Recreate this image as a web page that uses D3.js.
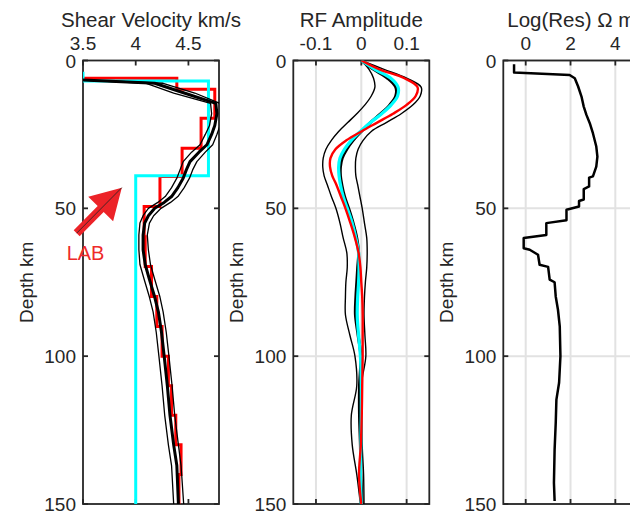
<!DOCTYPE html>
<html><head><meta charset="utf-8">
<script src="https://cdn.jsdelivr.net/npm/d3@7"></script>
<style>
body{margin:0;background:#fff}
svg{display:block}
text{font-family:"Liberation Sans",Arial,Helvetica,sans-serif;fill:#262626}
</style>
</head><body>
<svg id="c" width="630" height="515"></svg>
<script>
// ---------------- DATA ----------------
const depthTicks = [0, 50, 100, 150];
const velTicks = [3.5, 4, 4.5];
const rfTicks = [-0.1, 0, 0.1];
const resTicks = [0, 2, 4];

// starting model (cyan), layer tops + velocities
const startTops = [3.8, 6.9, 39];
const startVs = [3.5, 4.69, 4.0];
// true/reference model (red), layer tops + velocities
const trueTops = [0, 6, 9.7, 19.5, 29.7, 39.2, 49.4, 59.6, 69.7, 79.8, 90, 100, 110, 120, 130, 140];
const trueVs = [3.3, 4.39, 4.75, 4.62, 4.44, 4.23, 4.08, 4.09, 4.15, 4.2, 4.25, 4.31, 4.34, 4.38, 4.43, 4.41];
const modelBottom = 150;

// inverted velocity (black): mean and bounds
const velDepth = [6.6, 7.7, 11, 14.5, 18, 22, 25, 28.5, 31, 34.2, 37, 39.8, 43, 46, 48, 50, 52.5, 55, 59, 64, 69, 74, 80, 85, 92, 100, 110, 120, 130, 137, 150];
const velMean = [3.5, 4.18, 4.46, 4.76, 4.77, 4.75, 4.72, 4.675, 4.6, 4.515, 4.48, 4.45, 4.4, 4.34, 4.27, 4.18, 4.12, 4.085, 4.07, 4.07, 4.09, 4.13, 4.18, 4.215, 4.245, 4.27, 4.3, 4.325, 4.36, 4.39, 4.405];
const velLow = [3.5, 4.1, 4.36, 4.71, 4.72, 4.7, 4.66, 4.61, 4.53, 4.45, 4.42, 4.39, 4.34, 4.28, 4.21, 4.12, 4.07, 4.04, 4.03, 4.03, 4.04, 4.08, 4.13, 4.165, 4.195, 4.22, 4.25, 4.275, 4.31, 4.34, 4.36];
const velHigh = [3.5, 4.26, 4.56, 4.8, 4.82, 4.8, 4.77, 4.73, 4.66, 4.58, 4.54, 4.51, 4.46, 4.4, 4.33, 4.24, 4.17, 4.13, 4.11, 4.12, 4.14, 4.18, 4.23, 4.26, 4.29, 4.315, 4.345, 4.37, 4.405, 4.43, 4.455];

// receiver functions
const rfDepth = [0, 3, 6, 9, 12, 15, 18, 21, 24, 27, 30, 33, 36, 39, 42, 46, 50, 55, 60, 65, 70, 75, 80, 86, 93, 100, 110, 120, 130, 140, 150];
const rfRed = [0, 0.04, 0.095, 0.124, 0.12, 0.1, 0.07, 0.035, 0.0, -0.033, -0.057, -0.068, -0.069, -0.064, -0.055, -0.045, -0.035, -0.024, -0.014, -0.006, -0.002, 0.0, 0.002, 0.003, 0.003, 0.003, 0.002, 0.001, -0.001, -0.005, 0.0];
const rfCyan = [0, 0.03, 0.065, 0.081, 0.08, 0.066, 0.045, 0.02, -0.002, -0.022, -0.037, -0.047, -0.05, -0.049, -0.046, -0.04, -0.031, -0.02, -0.012, -0.006, -0.005, -0.006, -0.008, -0.009, -0.006, -0.002, 0.0, 0.0, -0.001, -0.002, 0.0];
const rfMean = [0, 0.027, 0.058, 0.076, 0.076, 0.063, 0.043, 0.02, 0.0, -0.018, -0.032, -0.042, -0.046, -0.046, -0.043, -0.037, -0.028, -0.018, -0.01, -0.006, -0.008, -0.01, -0.012, -0.013, -0.007, -0.001, -0.004, -0.004, -0.002, -0.001, 0.002];
const rfLow = [0, 0.017, 0.027, 0.03, 0.022, 0.008, -0.01, -0.03, -0.05, -0.066, -0.078, -0.084, -0.085, -0.082, -0.075, -0.066, -0.056, -0.047, -0.04, -0.032, -0.031, -0.034, -0.035, -0.035, -0.025, -0.014, -0.01, -0.022, -0.02, -0.01, -0.002];
const rfHigh = [0, 0.05, 0.1, 0.132, 0.13, 0.114, 0.088, 0.055, 0.022, 0.004, -0.007, -0.012, -0.013, -0.012, -0.008, -0.003, 0.002, 0.007, 0.012, 0.013, 0.012, 0.009, 0.007, 0.006, 0.008, 0.01, 0.0, 0.002, 0.002, 0.005, 0.006];

// resistivity
const resDepth = [1.3, 4.1, 4.9, 6, 8.8, 12.2, 15.6, 18.4, 21.2, 24.6, 29.1, 32.5, 35.9, 39.2, 39.6, 42.6, 43.5, 47, 47.5, 49.4, 50.5, 54, 55, 59, 60, 63.5, 64, 65.7, 69.1, 69.8, 74.1, 75, 79.8, 84.3, 89.9, 100, 109, 114.7, 122.6, 131.6, 142.8, 149];
const resLog = [-0.52, -0.52, 1.96, 2.19, 2.34, 2.49, 2.59, 2.71, 2.86, 3.0, 3.15, 3.2, 3.15, 3.0, 2.83, 2.83, 2.59, 2.59, 2.38, 2.38, 1.82, 1.82, 0.92, 0.92, -0.09, -0.09, 0.18, 0.55, 0.62, 1.0, 1.07, 1.29, 1.34, 1.44, 1.52, 1.55, 1.49, 1.37, 1.34, 1.29, 1.26, 1.29];

// LAB annotation (panel 1 data coordinates: [velocity, depth])
const labArrowFrom = [3.44, 58.4];
const labArrowTo = [3.868, 43];
const labTextAt = [3.345, 64.8];
const labText = "LAB";

// ---------------- DRAW ----------------
const svg = d3.select("#c");
const AX = "#262626";
const y = d3.scaleLinear().domain([0, 150]).range([60.5, 504]);

function stepPoints(tops, vals, bottom) {
  const pts = [];
  tops.forEach((t, i) => {
    const b = i < tops.length - 1 ? tops[i + 1] : bottom;
    pts.push([vals[i], t], [vals[i], b]);
  });
  return pts;
}

function makePanel(id, x0, x1, domain, ticks, title, ylabelX, grid) {
  const x = d3.scaleLinear().domain(domain).range([x0, x1]);
  const g = svg.append("g");
  g.append("clipPath").attr("id", "clip" + id).append("rect")
    .attr("x", x0).attr("y", y(0)).attr("width", x1 - x0).attr("height", y(150) - y(0));
  if (grid) {
    ticks.forEach(t => g.append("line").attr("x1", x(t)).attr("x2", x(t))
      .attr("y1", y(0)).attr("y2", y(150)).attr("stroke", "#e2e2e2").attr("stroke-width", 2));
    depthTicks.forEach(t => g.append("line").attr("x1", x0).attr("x2", x1)
      .attr("y1", y(t)).attr("y2", y(t)).attr("stroke", "#e2e2e2").attr("stroke-width", 2));
  }
  // box
  g.append("rect").attr("x", x0).attr("y", y(0)).attr("width", x1 - x0).attr("height", y(150) - y(0))
    .attr("fill", "none").attr("stroke", AX).attr("stroke-width", 1.8);
  // x ticks top/bottom
  ticks.forEach(t => {
    g.append("line").attr("x1", x(t)).attr("x2", x(t)).attr("y1", y(0)).attr("y2", y(0) + 5).attr("stroke", AX).attr("stroke-width", 1.8);
    g.append("line").attr("x1", x(t)).attr("x2", x(t)).attr("y1", y(150)).attr("y2", y(150) - 5).attr("stroke", AX).attr("stroke-width", 1.8);
    g.append("text").attr("x", x(t)).attr("y", 49.8).attr("text-anchor", "middle")
      .attr("font-size", 19).text(String(t));
  });
  depthTicks.forEach(t => {
    g.append("line").attr("x1", x0).attr("x2", x0 + 5).attr("y1", y(t)).attr("y2", y(t)).attr("stroke", AX).attr("stroke-width", 1.8);
    g.append("line").attr("x1", x1).attr("x2", x1 - 5).attr("y1", y(t)).attr("y2", y(t)).attr("stroke", AX).attr("stroke-width", 1.8);
    g.append("text").attr("x", x0 - 7).attr("y", y(t) + 7).attr("text-anchor", "end")
      .attr("font-size", 19).text(t);
  });
  g.append("text").attr("x", (x0 + x1) / 2).attr("y", 26.5).attr("text-anchor", "middle")
    .attr("font-size", 20.5).text(title);
  g.append("text").attr("transform", `translate(${ylabelX},${(y(0) + y(150)) / 2}) rotate(-90)`)
    .attr("text-anchor", "middle").attr("font-size", 19).text("Depth km");
  const data = g.append("g").attr("clip-path", `url(#clip${id})`);
  return { x, data };
}

// Panel 1
const p1 = makePanel(1, 83, 219, [3.5, 4.79], velTicks, "Shear Velocity km/s", 33, false);
const line1 = d3.line().x(d => p1.x(d[0])).y(d => y(d[1]));
p1.data.append("path").attr("d", line1(stepPoints(trueTops, trueVs, modelBottom)))
  .attr("fill", "none").attr("stroke", "#ff0000").attr("stroke-width", 3);
p1.data.append("path").attr("d", line1(stepPoints(startTops, startVs, modelBottom)))
  .attr("fill", "none").attr("stroke", "#00ffff").attr("stroke-width", 3);
[[velLow, 1.3], [velHigh, 1.3], [velMean, 3]].forEach(([arr, w]) => {
  p1.data.append("path").attr("d", line1(arr.map((v, i) => [v, velDepth[i]])))
    .attr("fill", "none").attr("stroke", "#000").attr("stroke-width", w).attr("stroke-linejoin", "round");
});

// Panel 2
const p2 = makePanel(2, 293.3, 429.3, [-0.15, 0.15], rfTicks, "RF Amplitude", 243, true);
const line2 = d3.line().x(d => p2.x(d[0])).y(d => y(d[1])).curve(d3.curveCatmullRom);
const rfSeries = [[rfLow, "#000", 1.4], [rfHigh, "#000", 1.4], [rfMean, "#000", 3], [rfCyan, "#00ffff", 3.2], [rfRed, "#ff0000", 2.4]];
rfSeries.forEach(([arr, c, w]) => {
  p2.data.append("path").attr("d", line2(arr.map((v, i) => [v, rfDepth[i]])))
    .attr("fill", "none").attr("stroke", c).attr("stroke-width", w);
});

// Panel 3
const p3 = makePanel(3, 503.3, 639.3, [-1, 5.07], resTicks, "Log(Res) \u03A9 m", 453, true);
const line3 = d3.line().x(d => p3.x(d[0])).y(d => y(d[1]));
p3.data.append("path").attr("d", line3(resLog.map((v, i) => [v, resDepth[i]])))
  .attr("fill", "none").attr("stroke", "#000").attr("stroke-width", 2.5).attr("stroke-linejoin", "round");

// LAB arrow
(function () {
  const tx = p1.x(labArrowFrom[0]), ty = y(labArrowFrom[1]);
  const hx = p1.x(labArrowTo[0]), hy = y(labArrowTo[1]);
  const dx = hx - tx, dy = hy - ty, L = Math.hypot(dx, dy);
  const ux = dx / L, uy = dy / L, nx = -uy, ny = ux;
  const headLen = 30, headHalf = 17.5, shaftHalf = 4.2;
  const bx = hx - ux * headLen, by = hy - uy * headLen;
  const pts = [
    [tx + nx * shaftHalf, ty + ny * shaftHalf],
    [bx + nx * shaftHalf, by + ny * shaftHalf],
    [bx + nx * headHalf, by + ny * headHalf],
    [hx, hy],
    [bx - nx * headHalf, by - ny * headHalf],
    [bx - nx * shaftHalf, by - ny * shaftHalf],
    [tx - nx * shaftHalf, ty - ny * shaftHalf]
  ];
  svg.append("polygon").attr("points", pts.map(p => p.join(",")).join(" ")).attr("fill", "#ec2328");
  svg.append("line").attr("x1", tx).attr("y1", ty).attr("x2", hx).attr("y2", hy)
    .attr("stroke", "#222").attr("stroke-width", 0.8);
  svg.append("text").attr("x", p1.x(labTextAt[0])).attr("y", y(labTextAt[1]) + 7.5)
    .attr("font-size", 20).style("fill", "#ee2a2a").text(labText);
})();
</script>
</body></html>
